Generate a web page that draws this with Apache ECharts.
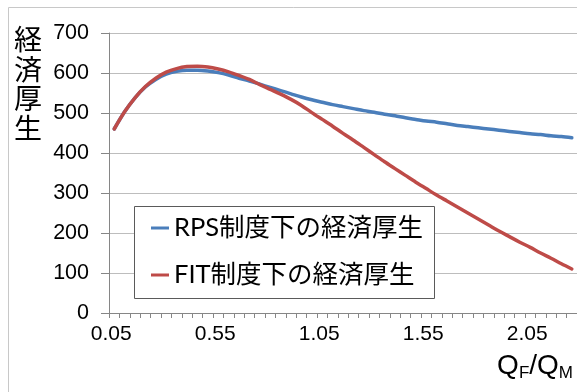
<!DOCTYPE html>
<html>
<head>
<meta charset="utf-8">
<script src="https://cdn.jsdelivr.net/npm/echarts@6/dist/echarts.min.js"></script>
<style>
  html, body { margin: 0; padding: 0; background: #ffffff; }
  #chart { width: 577px; height: 392px; }
</style>
</head>
<body>
<div id="chart"></div>
<script>
// Ratio of capacities Q_F / Q_M
const categories = [
  '0.05','0.10','0.15','0.20','0.25','0.30','0.35','0.40','0.45','0.50',
  '0.55','0.60','0.65','0.70','0.75','0.80','0.85','0.90','0.95','1.00',
  '1.05','1.10','1.15','1.20','1.25','1.30','1.35','1.40','1.45','1.50',
  '1.55','1.60','1.65','1.70','1.75','1.80','1.85','1.90','1.95','2.00',
  '2.05','2.10','2.15','2.20','2.25'
];

// Economic welfare under the RPS scheme
const rpsWelfare = [
  460, 503, 538, 565, 584, 597, 604, 607, 607, 605,
  601, 595, 587, 580, 572, 564, 556, 548, 540, 533,
  527, 521, 516, 511, 506, 502, 497, 493, 488, 484,
  480, 477, 473, 469, 466, 463, 460, 457, 454, 451,
  448, 446, 443, 441, 438
];

// Economic welfare under the FIT scheme
const fitWelfare = [
  460, 503, 538, 566, 587, 602, 611, 616, 617, 615,
  610, 603, 594, 584, 571, 559, 547, 534, 519, 501,
  484, 467, 449, 432, 414, 396, 378, 361, 344, 327,
  311, 295, 280, 265, 250, 235, 220, 205, 191, 177,
  164, 150, 137, 123, 110
];

const seriesNames = ['RPS制度下の経済厚生', 'FIT制度下の経済厚生'];
const yTitle = '経済厚生';

const NUM_FONT = "'Liberation Sans', Arial, sans-serif";
const JP_FONT = "'Noto Sans CJK JP', sans-serif";
const LEGEND_FONT = "Lato, 'Noto Sans CJK JP', sans-serif";

const chart = echarts.init(document.getElementById('chart'), null, { renderer: 'canvas' });

chart.setOption({
  backgroundColor: '#ffffff',
  animation: false,
  grid: { left: 109, top: 33, width: 469, height: 280, containLabel: false },
  xAxis: {
    type: 'category',
    data: categories,
    boundaryGap: true,
    axisLine: { show: true, lineStyle: { color: '#868686', width: 1 } },
    axisTick: { show: true, interval: 0, length: 5, lineStyle: { color: '#868686' } },
    axisLabel: {
      interval: 9,
      margin: 11,
      color: '#000000',
      fontFamily: NUM_FONT,
      fontSize: 21,
      padding: [0, 6, 0, 0]
    },
    splitLine: { show: false }
  },
  yAxis: {
    type: 'value',
    min: 0,
    max: 700,
    interval: 100,
    axisLine: { show: true, lineStyle: { color: '#868686', width: 1 } },
    axisTick: { show: true, length: 8, lineStyle: { color: '#868686' } },
    axisLabel: {
      margin: 20,
      color: '#000000',
      fontFamily: NUM_FONT,
      fontSize: 21.5
    },
    splitLine: { show: true, lineStyle: { color: '#bdbdbd', width: 1 } }
  },
  legend: {
    orient: 'vertical',
    left: 151,
    top: 215,
    padding: 0,
    itemGap: 21,
    icon: 'rect',
    itemWidth: 18,
    itemHeight: 3,
    textStyle: { fontFamily: LEGEND_FONT, fontSize: 25.5, lineHeight: 26, color: '#000000' },
    data: seriesNames,
    z: 5
  },
  series: [
    {
      name: seriesNames[0],
      type: 'line',
      data: rpsWelfare,
      symbol: 'none',
      smooth: 0.3,
      color: '#4a7ebb',
      lineStyle: { width: 3.5, color: '#4a7ebb', cap: 'round', join: 'round' },
      z: 2
    },
    {
      name: seriesNames[1],
      type: 'line',
      data: fitWelfare,
      symbol: 'none',
      smooth: 0.3,
      color: '#be4b48',
      lineStyle: { width: 3.5, color: '#be4b48', cap: 'round', join: 'round' },
      z: 3
    }
  ],
  graphic: [
    {
      // outer chart frame (left and top edges visible)
      type: 'rect',
      silent: true,
      z: -1,
      shape: { x: 8.5, y: 7.5, width: 700, height: 500 },
      style: { fill: 'none', stroke: '#c8c8c8', lineWidth: 1 }
    },
    {
      // legend box
      type: 'rect',
      silent: true,
      z: 4,
      shape: { x: 134.5, y: 206.5, width: 300, height: 92 },
      style: { fill: '#ffffff', stroke: '#5a5a5a', lineWidth: 1 }
    },
    {
      // vertical y-axis title
      type: 'text',
      silent: true,
      z: 5,
      x: 28,
      y: 25,
      style: {
        text: yTitle.split('').join('\n'),
        fontFamily: JP_FONT,
        fontSize: 28,
        lineHeight: 29.5,
        align: 'center',
        verticalAlign: 'top',
        fill: '#000000'
      }
    },
    {
      // x-axis title Q_F / Q_M
      type: 'text',
      silent: true,
      z: 5,
      x: 573,
      y: 366,
      style: {
        text: '{q|Q}{s|F}{q|/Q}{s|M}',
        align: 'right',
        verticalAlign: 'middle',
        fill: '#000000',
        rich: {
          q: { fontFamily: NUM_FONT, fontSize: 28, lineHeight: 32, fill: '#000000' },
          s: { fontFamily: NUM_FONT, fontSize: 17, lineHeight: 32, verticalAlign: 'bottom', fill: '#000000' }
        }
      }
    }
  ]
});
</script>
</body>
</html>
